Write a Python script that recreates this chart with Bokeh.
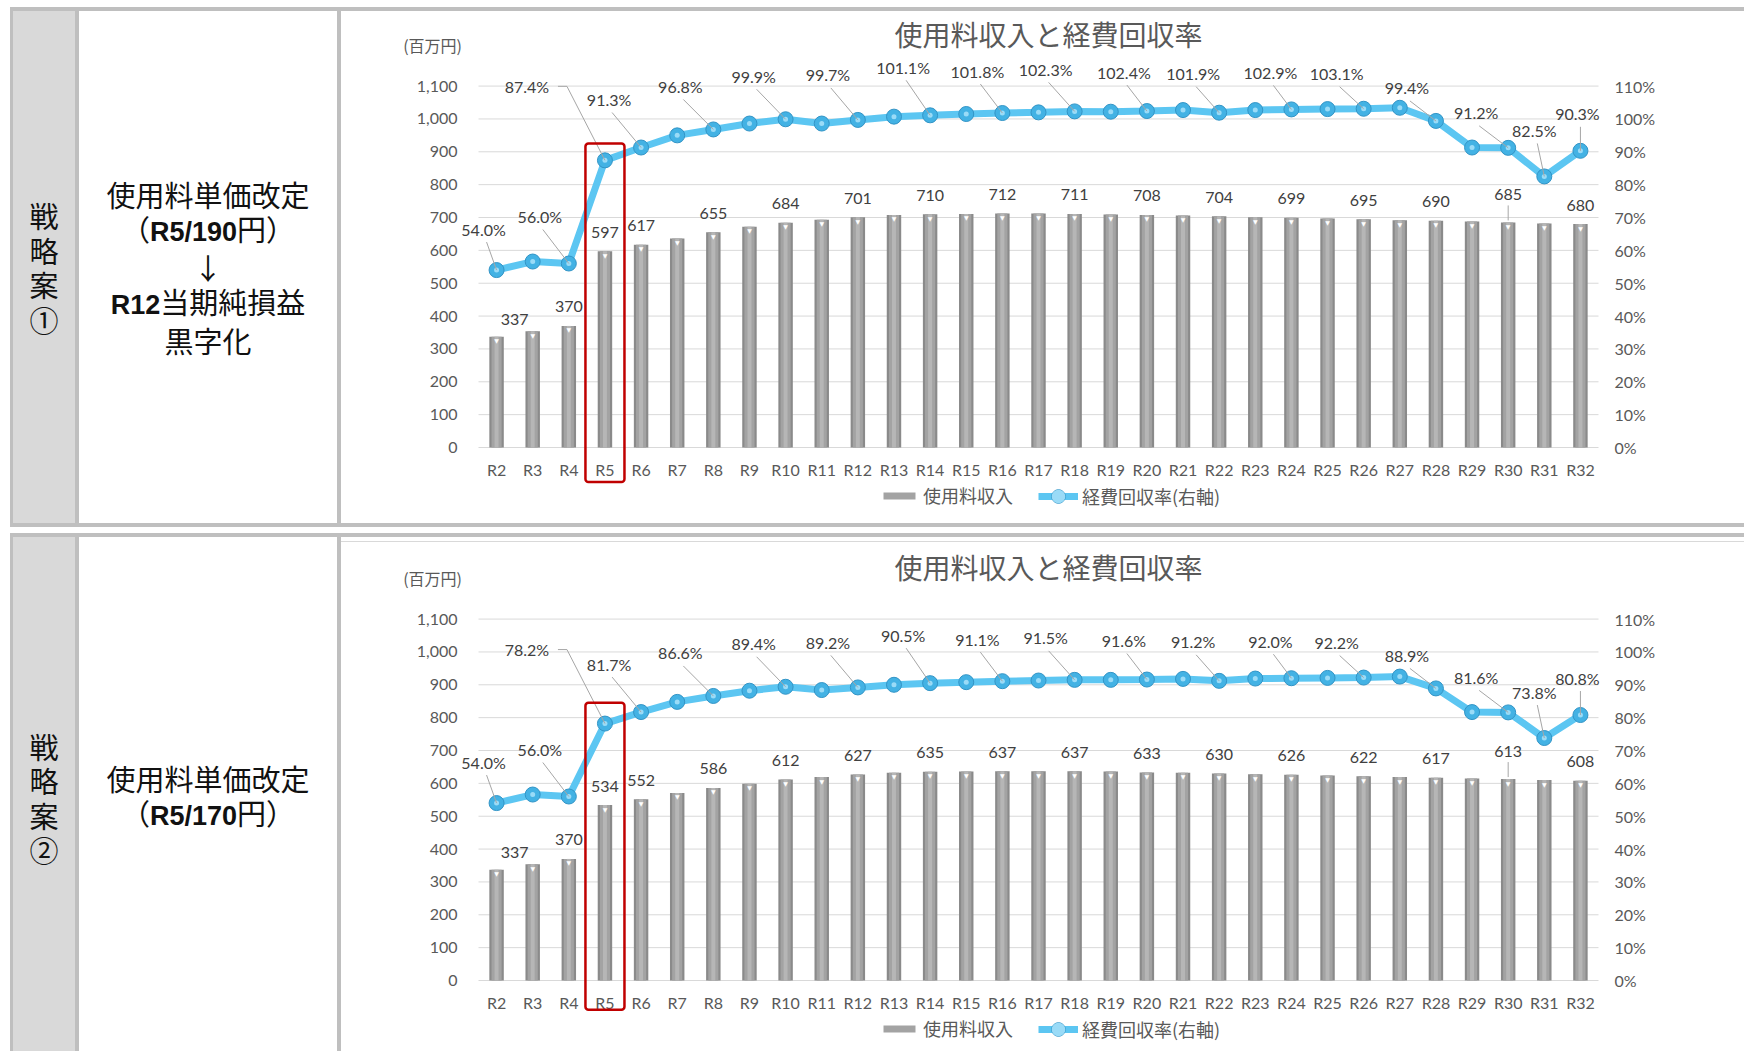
from bokeh.plotting import figure
from bokeh.models import (Range1d, LinearAxis, FixedTicker, Label, Legend, LegendItem,
                          Div, Spacer, BoxAnnotation, NumeralTickFormatter, ColumnDataSource)
from bokeh.layouts import row, column
from bokeh.core.properties import value
from bokeh.embed import file_html
from bokeh.resources import INLINE

# ---------------------------------------------------------------- data
periods = ["R2", "R3", "R4", "R5", "R6", "R7", "R8", "R9", "R10", "R11", "R12",
           "R13", "R14", "R15", "R16", "R17", "R18", "R19", "R20", "R21", "R22",
           "R23", "R24", "R25", "R26", "R27", "R28", "R29", "R30", "R31", "R32"]

# plan 1: unit price 190 yen from R5 (million yen / %)
revenue_190 = [337, 354, 370, 597, 617, 636, 655, 672, 684, 693, 701,
               708, 710, 711, 712, 712, 711, 709, 708, 706, 704,
               701, 699, 697, 695, 692, 690, 688, 685, 682, 680]
recovery_190 = [54.0, 56.6, 56.0, 87.4, 91.3, 95.0, 96.8, 98.6, 99.9, 98.6, 99.7,
                100.7, 101.1, 101.5, 101.8, 102.0, 102.3, 102.2, 102.4, 102.7, 101.9,
                102.7, 102.9, 103.0, 103.1, 103.4, 99.4, 91.3, 91.2, 82.5, 90.3]

# plan 2: unit price 170 yen from R5
revenue_170 = [337, 354, 370, 534, 552, 571, 586, 599, 612, 619, 627,
               632, 635, 636, 637, 637, 637, 636, 633, 632, 630,
               628, 626, 624, 622, 619, 617, 615, 613, 610, 608]
recovery_170 = [54.0, 56.6, 56.0, 78.2, 81.7, 84.8, 86.6, 88.2, 89.4, 88.4, 89.2,
                90.0, 90.5, 90.8, 91.1, 91.3, 91.5, 91.5, 91.6, 91.8, 91.2,
                91.9, 92.0, 92.1, 92.2, 92.5, 88.9, 81.7, 81.6, 73.8, 80.8]

yen_ticks = [0, 100, 200, 300, 400, 500, 600, 700, 800, 900, 1000, 1100]
pct_ticks = [0, 10, 20, 30, 40, 50, 60, 70, 80, 90, 100, 110]

# which points carry a data label, and where the label sits (pixels from the point)
rate_label_shift = {0: (-13, -41), 2: (-29, -47), 3: (-78, -74), 4: (-32, -48),
                    6: (-33, -43), 8: (-32, -43), 10: (-30, -45), 12: (-27, -48),
                    14: (-25, -42), 16: (-29, -42), 18: (-23, -39), 20: (-26, -39),
                    22: (-21, -37), 24: (-27, -35), 26: (-29, -33), 28: (-32, -35),
                    29: (-10, -46), 30: (-3, -37)}
bar_label_idx = [0, 2, 3, 4, 6, 8, 10, 12, 14, 16, 18, 20, 22, 24, 26, 28, 30]
bar_label_shift = {0: (18, -17), 28: (0, -28)}
BAR_LABEL_DEFAULT = (0, -19)

# ---------------------------------------------------------------- geometry
CHART_W = 1403
PAD_L, PAD_R = 137, 146               # room for the value axes inside the canvas
PLOT_W = CHART_W - PAD_L - PAD_R      # width of the category area
N = len(periods)
PX_X = PLOT_W / N
X_START = -0.5 - PAD_L / PX_X
X_END = N - 0.5 + PAD_R / PX_X
PLOT_H = 436                          # pixels from the 0 line to the top of the canvas
Y_TOP = 1327.0
PX_YEN = PLOT_H / Y_TOP
PX_PCT = PX_YEN * 10

GREY_LINE = "#bfbfbf"
NUM_FONT = "Lato"
JP_FONT = "Noto Sans CJK JP"
LABEL_COLOR = "#404040"
AXIS_COLOR = "#595959"


def legend_box(items, x, lift, glyph_h):
    return Legend(items=items, orientation="horizontal", location=(x, lift),
                  border_line_color=None, background_fill_alpha=0,
                  padding=0, margin=0, spacing=0, glyph_width=40, glyph_height=glyph_h,
                  label_standoff=4, label_height=20,
                  label_text_font=JP_FONT, label_text_font_size="18px",
                  label_text_color=AXIS_COLOR)


def build_chart(revenue, recovery, height, top_pad, legend_mid, box_top, box_bottom):
    below_px = height - top_pad - PLOT_H
    y_lo = -below_px / PX_YEN
    y_hi = Y_TOP + top_pad / PX_YEN
    p = figure(width=CHART_W, height=height,
               x_range=Range1d(X_START, X_END), y_range=Range1d(y_lo, y_hi),
               toolbar_location=None, output_backend="svg",
               min_border_left=0, min_border_right=0, min_border_top=0, min_border_bottom=0,
               outline_line_color=None, background_fill_color="white",
               border_fill_color="white", x_axis_type=None, y_axis_type=None)
    p.extra_y_ranges = {"pct": Range1d(y_lo / 10, y_hi / 10)}

    idx = list(range(N))
    xa = LinearAxis(ticker=FixedTicker(ticks=idx), fixed_location=0,
                    major_label_overrides={i: s for i, s in zip(idx, periods)})
    xa.major_label_standoff = 6
    p.add_layout(xa, "below")

    yen_ticker = FixedTicker(ticks=yen_ticks)
    ya = LinearAxis(ticker=yen_ticker, formatter=NumeralTickFormatter(format="0,0"),
                    fixed_location=-0.5)
    ya.major_label_standoff = 15
    p.add_layout(ya, "left")

    ra = LinearAxis(y_range_name="pct", ticker=FixedTicker(ticks=pct_ticks),
                    major_label_overrides={t: f"{t}%" for t in pct_ticks},
                    fixed_location=N - 0.5)
    ra.major_label_standoff = 10
    p.add_layout(ra, "right")

    for ax in (xa, ya, ra):
        ax.axis_line_color = None
        ax.major_tick_line_color = None
        ax.minor_tick_line_color = None
        ax.major_label_text_font = NUM_FONT
        ax.major_label_text_font_size = "16px"
        ax.major_label_text_color = AXIS_COLOR

    # horizontal gridlines across the category area only
    p.segment(x0=[-0.5] * len(yen_ticks), x1=[N - 0.5] * len(yen_ticks),
              y0=yen_ticks, y1=yen_ticks, line_color="#d9d9d9", line_width=1)

    src = ColumnDataSource(dict(x=idx, rev=revenue, rate=recovery))

    # shaded columns: dark rim, body, light core
    p.vbar(x="x", top="rev", width=0.40, source=src, fill_color="#8a8a8a", line_color=None)
    bar_body = p.vbar(x="x", top="rev", width=0.28, source=src, fill_color="#a3a3a3",
                      line_color=None)
    p.vbar(x="x", top="rev", width=0.11, source=src, fill_color="#b6b6b6", line_color=None)
    p.text(x="x", y="rev", text=value("▼"), source=src, text_color="white",
           text_font=value("DejaVu Sans"), text_font_size="6px",
           text_align="center", text_baseline="middle", y_offset=4)

    # recovery-rate line with ball markers
    ln = p.line(x="x", y="rate", source=src, y_range_name="pct",
                line_color="#5cc6f2", line_width=7)
    mk = p.scatter(x="x", y="rate", source=src, y_range_name="pct", size=15,
                   fill_color="#43b2e4", line_color="#3294c6", line_width=1)
    hl = p.scatter(x="x", y="rate", source=src, y_range_name="pct", size=5,
                   fill_color="#9adbf7", line_color=None)

    # leader lines from moved labels back to their points
    lxs, lys = [], []
    for i, (dx, dy) in rate_label_shift.items():
        if i == 3:
            pts = [(dx + 31, dy), (dx + 40, dy), (0, 0)]
        else:
            pts = [(dx + 3, dy + 13), (0, 0)]
        lxs.append([i + a / PX_X for a, _ in pts])
        lys.append([recovery[i] - b / PX_PCT for _, b in pts])
    p.multi_line(xs=lxs, ys=lys, y_range_name="pct", line_color="#a6a6a6", line_width=1)
    for i, (dx, dy) in bar_label_shift.items():
        if dy < -24:
            p.line(x=[i, i], y=[revenue[i] - (dy + 11) / PX_YEN, revenue[i] + 2 / PX_YEN],
                   line_color="#a6a6a6", line_width=1)

    # bar value labels
    bx, by, bt, bdx, bdy = [], [], [], [], []
    for i in bar_label_idx:
        dx, dy = bar_label_shift.get(i, BAR_LABEL_DEFAULT)
        bx.append(i); by.append(revenue[i]); bt.append(f"{revenue[i]}")
        bdx.append(dx); bdy.append(dy)
    p.text(x=bx, y=by, text=bt, x_offset=bdx, y_offset=bdy,
           text_font=value(NUM_FONT), text_font_size="16px", text_color=LABEL_COLOR,
           text_align="center", text_baseline="middle")

    # rate value labels
    rx, ry, rt, rdx, rdy = [], [], [], [], []
    for i, (dx, dy) in rate_label_shift.items():
        rx.append(i); ry.append(recovery[i]); rt.append(f"{recovery[i]:.1f}%")
        rdx.append(dx); rdy.append(dy)
    p.text(x=rx, y=ry, text=rt, x_offset=rdx, y_offset=rdy, y_range_name="pct",
           text_font=value(NUM_FONT), text_font_size="16px", text_color=LABEL_COLOR,
           text_align="center", text_baseline="middle")

    # highlight around the first year of the new price
    p.add_layout(BoxAnnotation(left=3 - 0.54, right=3 + 0.54, top=box_top, bottom=box_bottom,
                               fill_color=None, fill_alpha=0, line_color="#c00000",
                               line_alpha=1.0, line_width=2.5, border_radius=3))

    p.add_layout(Label(x=15.28, y=1257, text="使用料収入と経費回収率", text_font=JP_FONT,
                       text_font_size="28px", text_color=AXIS_COLOR,
                       text_align="center", text_baseline="middle"))
    p.add_layout(Label(x=-1.77, y=1226, text="(百万円)", text_font=JP_FONT,
                       text_font_size="16px", text_color=AXIS_COLOR,
                       text_align="center", text_baseline="middle"))

    # legend: flat swatch for the columns, ball-on-line for the rate
    p.add_layout(legend_box([LegendItem(label="使用料収入", renderers=[bar_body])],
                            538, legend_mid - 10, 9))
    p.add_layout(legend_box([LegendItem(label="経費回収率(右軸)", renderers=[ln, mk, hl])],
                            697, legend_mid - 15, 34))
    return p


def grey(w, h, color=GREY_LINE):
    return Spacer(width=w, height=h, margin=0, styles={"background-color": color})


def cell(html, w, h, bg, pad_top=0):
    inner = (f'<div style="box-sizing:border-box;width:{w}px;height:{h}px;padding-top:{pad_top}px;'
             f'display:flex;align-items:center;justify-content:center;text-align:center;'
             f"font-family:'{JP_FONT}';font-size:29px;line-height:34.5px;color:#111111\">"
             f'<div>{html}</div></div>')
    return Div(text=inner, width=w, height=h, margin=0, styles={"background-color": bg})


def bold(s):
    return f"<b style=\"font-family:'Liberation Sans';font-weight:bold;font-size:27px\">{s}</b>"


side_1 = "戦<br>略<br>案<br>①"
side_2 = "戦<br>略<br>案<br>②"
plan_1 = f"使用料単価改定<br>（{bold('R5/190')}円）<br>↓<br>{bold('R12')}当期純損益<br>黒字化"
plan_2 = f"使用料単価改定<br>（{bold('R5/170')}円）"

H1, H2 = 512, 514
chart_1 = build_chart(revenue_190, recovery_190, H1, 0, 25, 925, -105)
chart_2 = build_chart(revenue_170, recovery_170, 509, 2, 20, 845, -89)
chart_2_cell = column(grey(CHART_W, 4, "white"), grey(CHART_W, 1, "#d9d9d9"), chart_2,
                      spacing=0)

TABLE_W = 1734
row_1 = row(grey(3, H1), cell(side_1, 62, H1, "#d9d9d9"), grey(4, H1),
            cell(plan_1, 258, H1, "white"), grey(4, H1), chart_1, spacing=0)
row_2 = row(grey(3, H2), cell(side_2, 62, H2, "#d9d9d9", 7), grey(4, H2),
            cell(plan_2, 258, H2, "white", 6), grey(4, H2), chart_2_cell, spacing=0)

block_1 = column(grey(TABLE_W, 4), row_1, grey(TABLE_W, 4), spacing=0)
block_2 = column(grey(TABLE_W, 4), row_2, spacing=0)

page = column(
    Spacer(width=1744, height=7, margin=0),
    row(Spacer(width=10, height=520, margin=0), block_1, spacing=0),
    Spacer(width=1744, height=6, margin=0),
    row(Spacer(width=10, height=518, margin=0), block_2, spacing=0),
    spacing=0,
)

open("out.html", "w").write(file_html(page, INLINE))
